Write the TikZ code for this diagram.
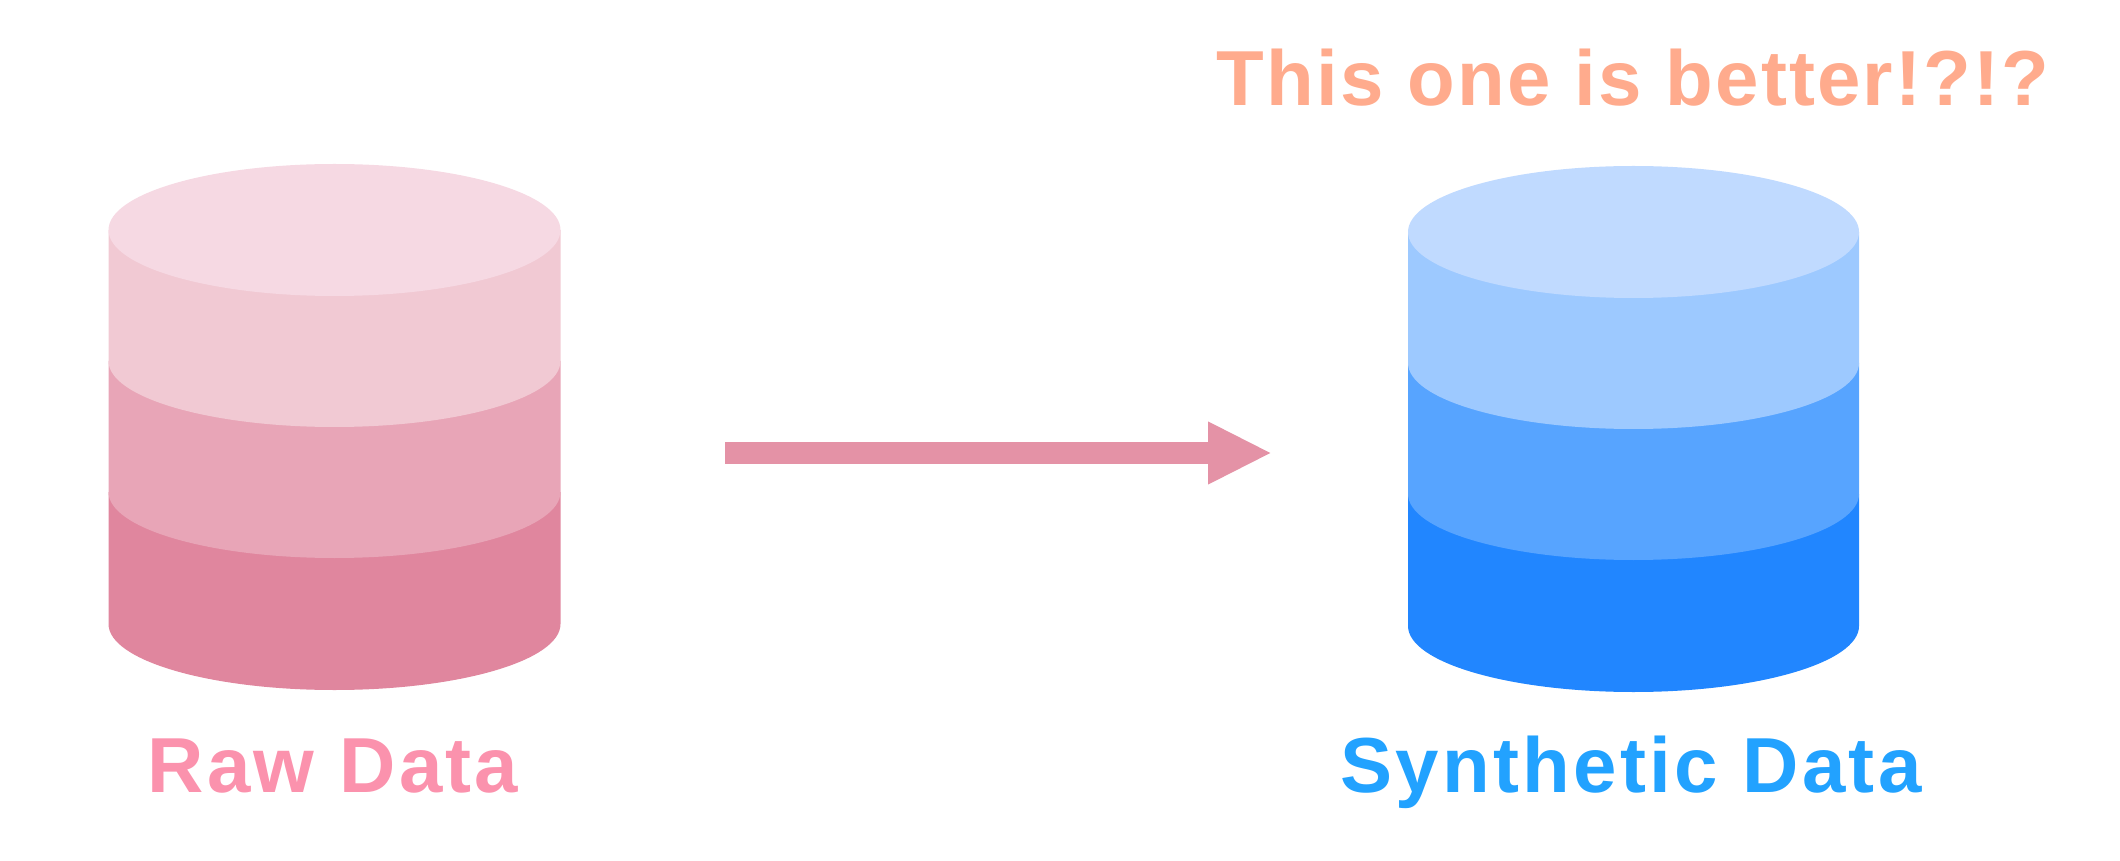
\documentclass[tikz,border=0pt]{standalone}
\usepackage{fontspec}
\usepackage{tikz}
\usetikzlibrary{arrows.meta}
\setmainfont{Liberation Sans}
\newfontfamily\labelfont{Liberation Sans}[LetterSpace=4.2]
\newfontfamily\remarkfont{Liberation Sans}[LetterSpace=2.8]
\definecolor{rawtop}{HTML}{F6D9E3}
\definecolor{rawa}{HTML}{F1C9D3}
\definecolor{rawb}{HTML}{E8A5B7}
\definecolor{rawc}{HTML}{E0869E}
\definecolor{syntop}{HTML}{C0DAFF}
\definecolor{syna}{HTML}{9DC9FF}
\definecolor{synb}{HTML}{57A4FF}
\definecolor{sync}{HTML}{2186FF}
\definecolor{rawlabel}{HTML}{FB92AD}
\definecolor{synlabel}{HTML}{22A2FF}
\definecolor{remark}{HTML}{FFAB8D}
\definecolor{flow}{HTML}{E492A6}

\begin{document}
\begin{tikzpicture}[
		caption/.style={anchor=base, inner sep=0pt, font=\fontsize{22.2}{28}\selectfont\labelfont\bfseries}
	]
	\useasboundingbox (0,0) rectangle (21.2,8.6);

	% Raw stack
	\foreach \y/\h/\col in {3.68/1.32/rawc,4.99/1.31/rawb,6.30/1.31/rawa}{
			\fill[\col] (1.085,\y) -- ++(0,-\h) arc[start angle=180, end angle=360, x radius=2.26, y radius=0.66] -- ++(0,\h) -- cycle;
		}
	\fill[rawtop] (3.345,6.30) ellipse [x radius=2.26, y radius=0.66];

	% Synthetic stack
	\foreach \y/\h/\col in {3.66/1.32/sync,4.97/1.31/synb,6.28/1.31/syna}{
			\fill[\col] (14.08,\y) -- ++(0,-\h) arc[start angle=180, end angle=360, x radius=2.255, y radius=0.66] -- ++(0,\h) -- cycle;
		}
	\fill[syntop] (16.335,6.28) ellipse [x radius=2.255, y radius=0.66];

	% Flow arrow
	\coordinate (flowstart) at (7.25,4.07);
	\coordinate (flowend) at (12.72,4.07);
	\draw[flow, line width=0.21cm, -{Triangle[length=0.64cm, width=0.58cm]}] (flowstart) -- (flowend);

	% Captions
	\node[caption, text=rawlabel] (rawcap) at (3.33,0.68) {Raw Data};
	\node[caption, text=synlabel] (syncap) at (16.31,0.68) {Synthetic Data};
	\node[caption, text=remark, font=\fontsize{22.2}{28}\selectfont\remarkfont\bfseries] (remarkcap) at (16.33,7.54) {This one is better!?!?};
\end{tikzpicture}
\end{document}
